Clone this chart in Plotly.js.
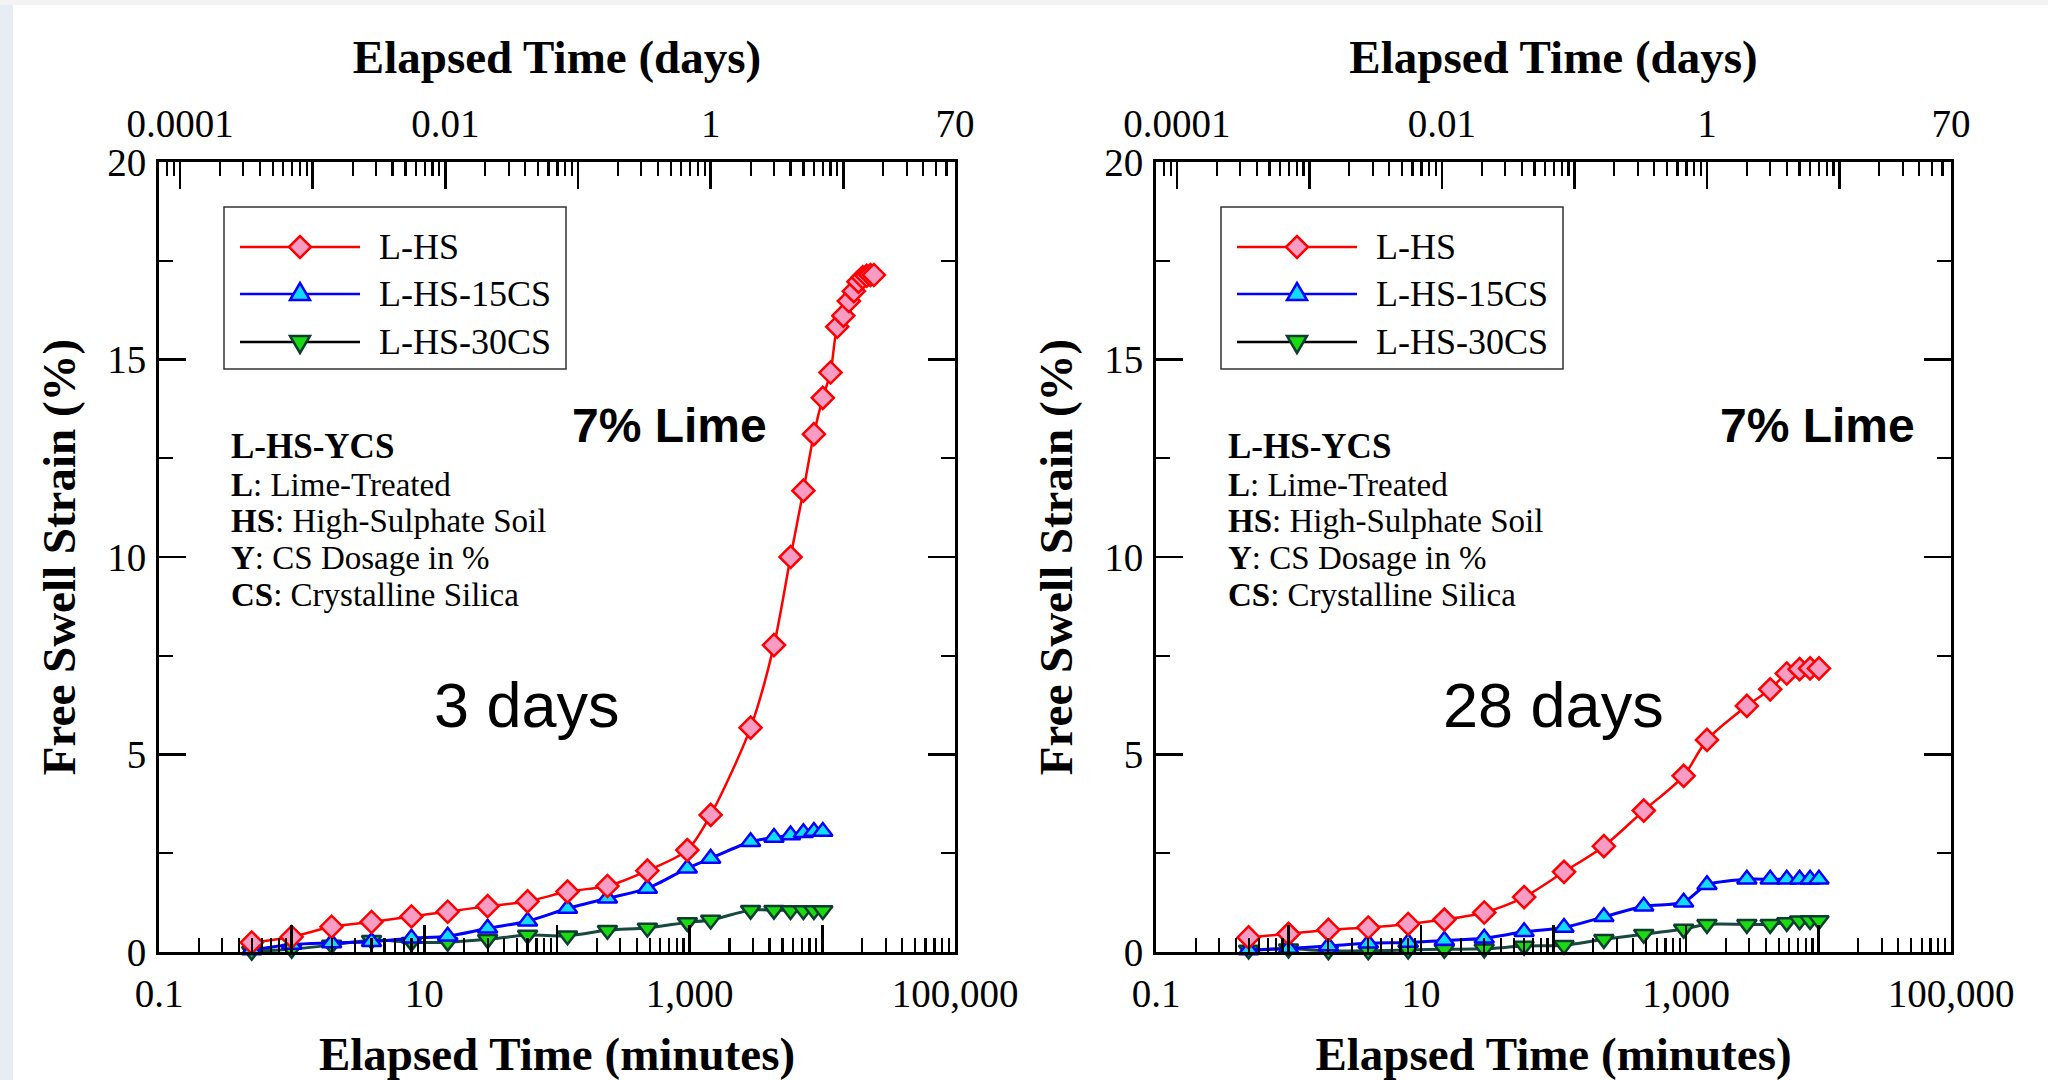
<!DOCTYPE html>
<html>
<head>
<meta charset="utf-8">
<script src="https://cdn.plot.ly/plotly-3.0.1.min.js"></script>
<style>html,body{margin:0;padding:0;background:#fff;}#chart{width:2048px;height:1080px;}</style>
</head>
<body>
<div id="chart"></div>
<script>
// ---------- DATA ----------
const timeMin = [0.5, 1, 2, 4, 8, 15, 30, 60, 120, 240, 480, 960, 1440, 2880, 4320, 5760, 7200, 8640, 10080];
const timeMinLong = [0.5, 1, 2, 4, 8, 15, 30, 60, 120, 240, 480, 960, 1440, 2880, 4320, 5760, 7200, 8640, 10080,
                     11520, 12960, 14400, 15840, 17280, 18720, 20160, 21600, 23040, 24480];

// 3 days curing
const lhs_3d     = [0.24, 0.38, 0.64, 0.76, 0.90, 1.02, 1.16, 1.28, 1.53, 1.67, 2.06, 2.58, 3.47, 5.68, 7.77, 10.0, 11.68, 13.11, 14.03,
                    14.67, 15.83, 16.11, 16.48, 16.73, 16.97, 17.08, 17.12, 17.14, 17.14];
const lhs15cs_3d = [0.05, 0.19, 0.23, 0.26, 0.35, 0.40, 0.60, 0.78, 1.10, 1.36, 1.61, 2.12, 2.37, 2.79, 2.90, 2.96, 3.02, 3.05, 3.05];
const lhs30cs_3d = [0.02, 0.07, 0.18, 0.30, 0.25, 0.25, 0.32, 0.43, 0.41, 0.55, 0.61, 0.75, 0.81, 1.06, 1.06, 1.05, 1.05, 1.05, 1.05];

// 28 days curing
const lhs_28d     = [0.37, 0.46, 0.56, 0.62, 0.71, 0.82, 1.00, 1.39, 2.03, 2.68, 3.58, 4.46, 5.37, 6.23, 6.65, 7.05, 7.16, 7.18, 7.18];
const lhs15cs_28d = [0.05, 0.09, 0.15, 0.22, 0.24, 0.29, 0.35, 0.51, 0.62, 0.89, 1.16, 1.26, 1.70, 1.84, 1.84, 1.84, 1.84, 1.84, 1.84];
const lhs30cs_28d = [0.05, 0.08, 0.03, 0.03, 0.05, 0.07, 0.08, 0.15, 0.17, 0.32, 0.45, 0.58, 0.70, 0.70, 0.70, 0.75, 0.79, 0.80, 0.80];

const seriesNames = ['L-HS', 'L-HS-15CS', 'L-HS-30CS'];
const panelLabels = ['3 days', '28 days'];
const limeLabel = '7% Lime';

// axis ticks
const minutesTickVals = [0.1, 1, 10, 100, 1000, 10000, 100000];
const minutesTickText = ['0.1', '', '10', '', '1,000', '', '100,000'];
const daysTickVals = [0.0001, 0.001, 0.01, 0.1, 1, 10, 69.4];
const daysTickText = ['0.0001', '', '0.01', '', '1', '', '70'];
const xRangeMin = [0.1, 100000];
const minutesPerDay = 1440;

const keyLines = [
  ['<b>L-HS-YCS</b>', 35],
  ['<b>L</b>: Lime-Treated', 33],
  ['<b>HS</b>: High-Sulphate Soil', 33],
  ['<b>Y</b>: CS Dosage in %', 33],
  ['<b>CS</b>: Crystalline Silica', 33]
];

// ---------- STYLE ----------
const W = 2048, H = 1080;
const SERIF = 'Liberation Serif, Times New Roman, serif';
const SANS = 'Liberation Sans, Arial, sans-serif';
const PX = x => x / W;
const PY = y => 1 - y / H;

const styles = [
  {line: {color: '#ff0000', width: 2.5, shape: 'spline', smoothing: 0.8},
   marker: {symbol: 'diamond', size: 17, color: '#f89cc4', line: {color: '#ff0000', width: 2.5}}},
  {line: {color: '#0000ff', width: 3, shape: 'spline', smoothing: 0.8},
   marker: {symbol: 'triangle-up', size: 17, color: '#10dcff', line: {color: '#0000ff', width: 2.5}}},
  {line: {color: '#17493e', width: 3, shape: 'spline', smoothing: 0.8},
   marker: {symbol: 'triangle-down', size: 17, color: '#18dc10', line: {color: '#0b3d30', width: 2.5}}}
];
const legendLineColors = ['#ff0000', '#0000ff', '#000000'];

// panel geometry (pixels)
const panels = [
  {x0: 159, x1: 955, lime: [669, 426], label: [527, 705], legendX: 224, keyX: 229},
  {x0: 1156, x1: 1951, lime: [1817, 426], label: [1553, 705], legendX: 1221, keyX: 1226}
];
const plotTop = 162, plotBottom = 952;

// minor tick values
function minorVals(lo, hi) {
  const out = [];
  for (let e = -6; e <= 6; e++) {
    for (let m = 2; m <= 9; m++) {
      const v = m * Math.pow(10, e);
      if (v > lo * 1.0001 && v < hi * 0.9999) out.push(v);
    }
  }
  return out;
}
const dayRange = [xRangeMin[0] / minutesPerDay, xRangeMin[1] / minutesPerDay];

const datasets = [
  [[timeMinLong, lhs_3d], [timeMin, lhs15cs_3d], [timeMin, lhs30cs_3d]],
  [[timeMin, lhs_28d], [timeMin, lhs15cs_28d], [timeMin, lhs30cs_28d]]
];

const TICKFONT = {family: SERIF, size: 39, color: '#000'};
const TITLEFONT = {family: SERIF, size: 47, color: '#000'};
const traces = [];
const layout = {
  width: W, height: H,
  margin: {l: 0, r: 0, t: 0, b: 0},
  paper_bgcolor: '#ffffff', plot_bgcolor: '#ffffff',
  showlegend: false,
  font: {family: SERIF, color: '#000'},
  shapes: [], annotations: []
};

// background strips of the slide
layout.shapes.push({type: 'rect', xref: 'paper', yref: 'paper', x0: 0, x1: PX(13), y0: 0, y1: 1,
  fillcolor: '#e7edf2', line: {width: 0}, layer: 'below'});
layout.shapes.push({type: 'rect', xref: 'paper', yref: 'paper', x0: 0, x1: 1, y0: PY(5), y1: 1,
  fillcolor: '#f3f3f3', line: {width: 0}, layer: 'below'});

panels.forEach((p, i) => {
  const xb = i === 0 ? 'x' : 'x2';
  const yy = i === 0 ? 'y' : 'y2';
  const xt = i === 0 ? 'x3' : 'x4';
  const xbName = i === 0 ? 'xaxis' : 'xaxis2';
  const yName = i === 0 ? 'yaxis' : 'yaxis2';
  const xtName = i === 0 ? 'xaxis3' : 'xaxis4';
  const dom = [PX(p.x0), PX(p.x1)];

  // empty trace so the top (days) axis is drawn
  traces.push({type: 'scatter', mode: 'markers', x: [], y: [], xaxis: xt, yaxis: yy,
    showlegend: false, hoverinfo: 'skip'});

  // traces: draw 30CS first so that L-HS is on top
  [2, 1, 0].forEach(k => {
    const d = datasets[i][k];
    traces.push({
      type: 'scatter', mode: 'lines+markers', name: seriesNames[k],
      x: d[0], y: d[1], xaxis: xb, yaxis: yy,
      line: styles[k].line, marker: styles[k].marker, cliponaxis: false
    });
  });

  layout[xbName] = {
    domain: dom, anchor: yy, type: 'log',
    range: [Math.log10(xRangeMin[0]), Math.log10(xRangeMin[1])],
    tickmode: 'array', tickvals: minutesTickVals, ticktext: minutesTickText,
    ticks: 'inside', ticklen: 27, tickwidth: 2.5, tickcolor: '#000',
    minor: {tickmode: 'array', tickvals: minorVals(xRangeMin[0], xRangeMin[1]), ticks: 'inside', ticklen: 14, tickwidth: 2.2, tickcolor: '#000'},
    showline: true, linewidth: 3, linecolor: '#000', mirror: false,
    showgrid: false, zeroline: false,
    tickfont: TICKFONT,
    ticklabelstandoff: 5,
    title: {text: '<b>Elapsed Time (minutes)</b>', font: TITLEFONT, standoff: 34}
  };
  layout[xtName] = {
    domain: dom, anchor: yy, overlaying: xb, side: 'top', type: 'log',
    range: [Math.log10(dayRange[0]), Math.log10(dayRange[1])],
    tickmode: 'array', tickvals: daysTickVals, ticktext: daysTickText,
    ticks: 'inside', ticklen: 27, tickwidth: 2.5, tickcolor: '#000',
    minor: {tickmode: 'array', tickvals: minorVals(dayRange[0], dayRange[1]), ticks: 'inside', ticklen: 14, tickwidth: 2.2, tickcolor: '#000'},
    showline: true, linewidth: 3, linecolor: '#000',
    showgrid: false, zeroline: false,
    tickfont: TICKFONT,
    ticklabelstandoff: 6,
    title: {text: '<b>Elapsed Time (days)</b>', font: TITLEFONT, standoff: 14}
  };
  layout[yName] = {
    domain: [PY(plotBottom), PY(plotTop)], anchor: xb,
    range: [0, 20], tickmode: 'linear', tick0: 0, dtick: 5,
    ticks: 'inside', ticklen: 27, tickwidth: 2.5, tickcolor: '#000',
    minor: {dtick: 2.5, ticks: 'inside', ticklen: 14, tickwidth: 2.2, tickcolor: '#000'},
    showline: true, linewidth: 3, linecolor: '#000', mirror: 'ticks',
    showgrid: false, zeroline: false,
    tickfont: TICKFONT,
    ticklabelstandoff: 2,
    title: {text: '<b>Free Swell Strain (%)</b>', font: TITLEFONT, standoff: 17}
  };

  // legend box
  const lx = p.legendX;
  layout.shapes.push({type: 'rect', xref: 'paper', yref: 'paper',
    x0: PX(lx), x1: PX(lx + 342), y0: PY(369), y1: PY(207),
    line: {color: '#333', width: 1.5}, fillcolor: 'rgba(0,0,0,0)'});
  const rowsY = [247, 294, 342];
  const markerPaths = [
    'M-11,0 L0,11 L11,0 L0,-11 Z',
    'M-10,-6 L10,-6 L0,11 Z',
    'M-10,6 L10,6 L0,-11 Z'
  ];
  seriesNames.forEach((nm, k) => {
    const ry = rowsY[k];
    layout.shapes.push({type: 'line', xref: 'paper', yref: 'paper',
      x0: PX(lx + 16), x1: PX(lx + 136), y0: PY(ry), y1: PY(ry),
      line: {color: legendLineColors[k], width: 2.5}});
    layout.shapes.push({type: 'path', xref: 'paper', yref: 'paper',
      xsizemode: 'pixel', ysizemode: 'pixel', xanchor: PX(lx + 76), yanchor: PY(ry),
      path: markerPaths[k], fillcolor: styles[k].marker.color,
      line: {color: styles[k].marker.line.color, width: 2.5}});
    layout.annotations.push({xref: 'paper', yref: 'paper', x: PX(lx + 153), y: PY(ry),
      xanchor: 'left', yanchor: 'middle', showarrow: false, text: nm,
      font: {family: SERIF, size: 36, color: '#000'}});
  });

  // key block
  const keyY = [447, 485, 521, 558, 595];
  keyLines.forEach((kl, j) => {
    layout.annotations.push({xref: 'paper', yref: 'paper', x: PX(p.keyX), y: PY(keyY[j]),
      xanchor: 'left', yanchor: 'middle', showarrow: false, text: kl[0],
      font: {family: SERIF, size: kl[1], color: '#000'}});
  });

  layout.annotations.push({xref: 'paper', yref: 'paper', x: PX(p.lime[0]), y: PY(p.lime[1]),
    xanchor: 'center', yanchor: 'middle', showarrow: false, text: '<b>' + limeLabel + '</b>',
    font: {family: SANS, size: 48, color: '#000'}});
  layout.annotations.push({xref: 'paper', yref: 'paper', x: PX(p.label[0]), y: PY(p.label[1]),
    xanchor: 'center', yanchor: 'middle', showarrow: false, text: panelLabels[i],
    font: {family: SANS, size: 63, color: '#000'}});
});

Plotly.newPlot('chart', traces, layout, {displayModeBar: false, staticPlot: true});
</script>
</body>
</html>
